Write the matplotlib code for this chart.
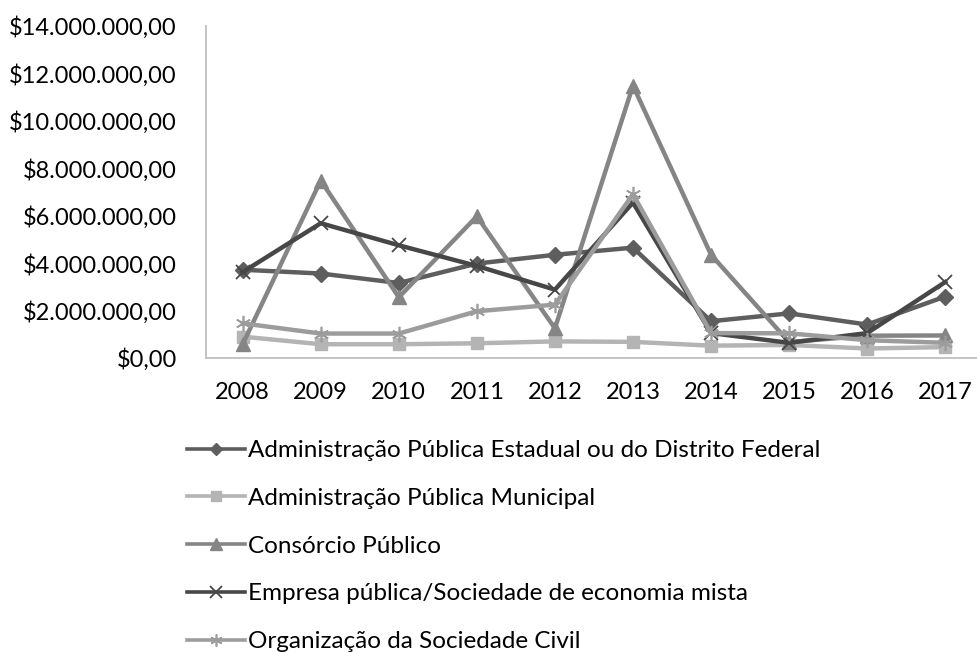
import numpy as np
import matplotlib.pyplot as plt
from matplotlib.ticker import FuncFormatter

plt.rcParams['font.family'] = ['Lato', 'DejaVu Sans']

anos = ['2008', '2009', '2010', '2011', '2012', '2013', '2014', '2015', '2016', '2017']

# valores em milhões de reais
estadual = [3.72, 3.56, 3.16, 3.98, 4.35, 4.65, 1.55, 1.88, 1.41, 2.59]
municipal = [0.90, 0.58, 0.58, 0.62, 0.70, 0.68, 0.52, 0.55, 0.40, 0.46]
consorcio = [0.58, 7.48, 2.56, 5.97, 1.25, 11.48, 4.35, 0.67, 0.94, 0.95]
empresa = [3.62, 5.68, 4.75, 3.88, 2.88, 6.55, 1.05, 0.64, 1.05, 3.20]
sociedade = [1.46, 1.03, 1.03, 1.97, 2.25, 6.90, 1.05, 1.04, 0.75, 0.64]

nomes = ['Administração Pública Estadual ou do Distrito Federal',
         'Administração Pública Municipal',
         'Consórcio Público',
         'Empresa pública/Sociedade de economia mista',
         'Organização da Sociedade Civil']

fig = plt.figure(figsize=(9.78, 6.53), dpi=100)
ax = fig.add_axes([206 / 978, 1 - 358 / 653, 1 - 206 / 978, (358 - 25.8) / 653])

x = np.arange(len(anos))
ax.plot(x, np.array(estadual) * 1e6, color='#5e5e5e', lw=3.2, marker='D', ms=8, label=nomes[0])
ax.plot(x, np.array(municipal) * 1e6, color='#b4b4b4', lw=3.2, marker='s', ms=9, label=nomes[1])
ax.plot(x, np.array(consorcio) * 1e6, color='#858585', lw=3.2, marker='^', ms=10, label=nomes[2])
ax.plot(x, np.array(empresa) * 1e6, color='#474747', lw=3.2, marker='x', ms=10, mew=1.3, label=nomes[3])
ax.plot(x, np.array(sociedade) * 1e6, color='#9c9c9c', lw=3.2, marker=(6, 2, 0), ms=11, mew=1.2, label=nomes[4])

ax.set_xlim(-0.47, 9.42)
ax.set_ylim(0, 14e6)
ax.set_yticks(np.arange(0, 14.1e6, 2e6))
ax.set_xticks(x)
ax.set_xticklabels(anos)


def moeda(v, pos):
    s = '{:,.2f}'.format(v)
    s = s.replace(',', 'X').replace('.', ',').replace('X', '.')
    return '$' + s


ax.yaxis.set_major_formatter(FuncFormatter(moeda))
ax.tick_params(axis='y', length=0, pad=21, labelsize=17, labelcolor='black')
ax.tick_params(axis='x', length=0, pad=17, labelsize=17, labelcolor='black')

for s in ['top', 'right']:
    ax.spines[s].set_visible(False)
for s in ['left', 'bottom']:
    ax.spines[s].set_color('#bfbfbf')
    ax.spines[s].set_linewidth(1.3)

leg = fig.legend(loc='upper left', bbox_to_anchor=(187 / 978, 1 - 440 / 653), frameon=False,
                 fontsize=17.5, handlelength=2.4, handletextpad=0.13, labelspacing=1.1,
                 borderpad=0, borderaxespad=0, markerscale=0.8)
for h in leg.legend_handles:
    h.set_linewidth(2.6)

fig.savefig('out.png', dpi=100)
